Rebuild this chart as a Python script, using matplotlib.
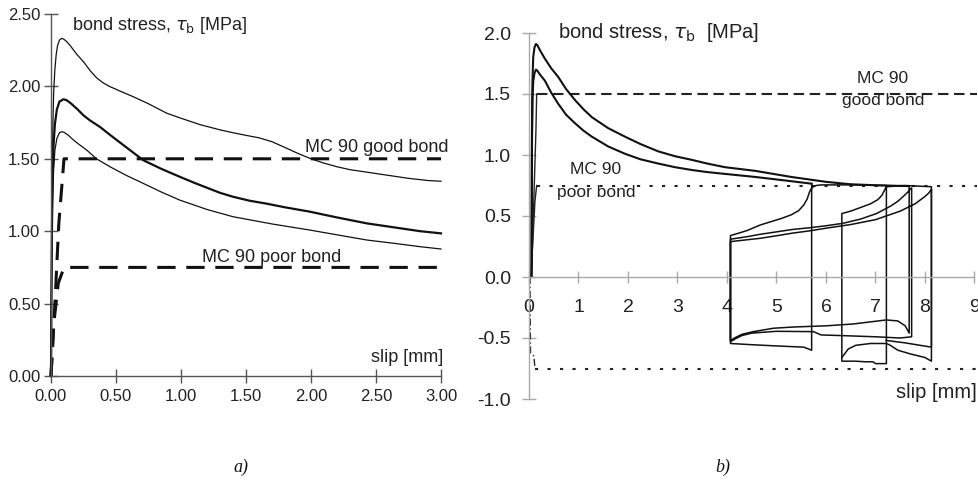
import matplotlib
matplotlib.use("Agg")
import matplotlib.pyplot as plt

plt.rcParams['font.family'] = ['Liberation Sans', 'DejaVu Sans']
plt.rcParams['mathtext.fontset'] = 'dejavusans'

# ---------------- (a) monotonic bond stress - slip curves ----------------
a_top_x = [0, 0.002, 0.005, 0.01, 0.015, 0.02, 0.03, 0.04, 0.05, 0.065, 0.082, 0.10,
           0.12, 0.145, 0.17, 0.20, 0.25, 0.30, 0.35, 0.40, 0.45, 0.55, 0.63, 0.75,
           0.89, 1.00, 1.15, 1.30, 1.40, 1.50, 1.60, 1.70, 1.80, 1.90, 2.00, 2.10,
           2.20, 2.30, 2.45, 2.60, 2.75, 2.90, 3.00]
a_top_y = [0, 0.40, 0.90, 1.40, 1.75, 1.95, 2.12, 2.22, 2.28, 2.32, 2.332, 2.325,
           2.31, 2.285, 2.255, 2.22, 2.17, 2.11, 2.06, 2.025, 2.00, 1.96, 1.93, 1.88,
           1.815, 1.78, 1.735, 1.70, 1.68, 1.662, 1.645, 1.618, 1.578, 1.537, 1.50, 1.47,
           1.445, 1.425, 1.405, 1.385, 1.365, 1.35, 1.345]

a_mid_x = [0, 0.003, 0.007, 0.012, 0.02, 0.03, 0.045, 0.065, 0.095, 0.12, 0.15, 0.20,
           0.25, 0.30, 0.377, 0.44, 0.505, 0.60, 0.71, 0.85, 0.99, 1.10, 1.20, 1.30,
           1.40, 1.53, 1.66, 1.80, 1.99, 2.20, 2.43, 2.65, 2.84, 3.00]
a_mid_y = [0, 0.50, 1.00, 1.35, 1.60, 1.74, 1.84, 1.895, 1.911, 1.905, 1.885, 1.845,
           1.80, 1.765, 1.72, 1.675, 1.63, 1.565, 1.49, 1.43, 1.376, 1.335, 1.30, 1.265,
           1.238, 1.21, 1.19, 1.165, 1.135, 1.095, 1.054, 1.025, 1.00, 0.985]

a_low_x = [0, 0.003, 0.007, 0.012, 0.02, 0.03, 0.045, 0.065, 0.082, 0.10, 0.13, 0.16,
           0.20, 0.275, 0.35, 0.454, 0.58, 0.71, 0.85, 0.99, 1.20, 1.40, 1.70, 1.99,
           2.20, 2.43, 2.65, 2.84, 3.00]
a_low_y = [0, 0.45, 0.90, 1.20, 1.42, 1.56, 1.64, 1.68, 1.687, 1.683, 1.665, 1.64,
           1.61, 1.56, 1.50, 1.445, 1.385, 1.33, 1.27, 1.215, 1.15, 1.10, 1.05, 1.008,
           0.975, 0.939, 0.915, 0.893, 0.877]

a_good_x = [0, 0.03, 0.06, 0.10, 3.00]
a_good_y = [0, 0.50, 1.05, 1.50, 1.50]
a_poor_x = [0, 0.02, 0.056, 0.10, 3.00]
a_poor_y = [0, 0.35, 0.64, 0.75, 0.75]

a_xticks = [0, 0.5, 1.0, 1.5, 2.0, 2.5, 3.0]
a_yticks = [0, 0.5, 1.0, 1.5, 2.0, 2.5]

# ---------------- (b) monotonic + cyclic bond stress - slip curves ----------------
b_up_x = [0.05, 0.055, 0.06, 0.07, 0.085, 0.11, 0.14, 0.17, 0.22, 0.32, 0.45, 0.59,
          0.75, 0.93, 1.10, 1.27, 1.60, 1.94, 2.25, 2.61, 2.95, 3.29, 3.60, 3.96,
          4.57, 5.30, 6.00, 6.50, 7.00, 7.68]
b_up_y = [0, 0.60, 1.20, 1.60, 1.80, 1.88, 1.91, 1.90, 1.86, 1.79, 1.71, 1.64,
          1.54, 1.45, 1.375, 1.31, 1.22, 1.15, 1.09, 1.03, 0.99, 0.96, 0.93, 0.90,
          0.87, 0.82, 0.78, 0.76, 0.752, 0.745]

b_lo_x = [0.05, 0.055, 0.06, 0.07, 0.085, 0.11, 0.14, 0.17, 0.22, 0.32, 0.45, 0.59,
          0.75, 0.93, 1.10, 1.27, 1.60, 1.94, 2.25, 2.61, 2.95, 3.29, 3.60, 3.96,
          4.57, 5.20, 5.71]
b_lo_y = [0, 0.55, 1.10, 1.45, 1.60, 1.67, 1.70, 1.69, 1.66, 1.61, 1.51, 1.42,
          1.33, 1.26, 1.20, 1.15, 1.07, 1.01, 0.965, 0.93, 0.90, 0.877, 0.86, 0.845,
          0.82, 0.79, 0.765]

# cyclic branches of the lower curve
c1_x = [5.71, 5.71, 5.55, 5.00, 4.50, 4.20, 4.07,
        4.07, 4.20, 4.40, 4.67, 4.90, 5.10, 5.30, 5.45, 5.55, 5.62, 5.67, 5.72, 5.80,
        5.90, 6.50, 7.22,
        7.22, 7.00, 6.95, 6.80, 6.60, 6.32,
        6.32, 6.50, 6.70, 6.90, 7.05, 7.13, 7.18, 7.22, 7.60, 8.13,
        8.13, 7.60, 7.22]
c1_y = [0.765, -0.60, -0.575, -0.565, -0.555, -0.548, -0.545,
        0.34, 0.355, 0.38, 0.426, 0.455, 0.48, 0.51, 0.545, 0.59, 0.64, 0.70, 0.735, 0.75,
        0.755, 0.755, 0.75,
        -0.71, -0.71, -0.695, -0.695, -0.69, -0.69,
        0.52, 0.54, 0.57, 0.60, 0.635, 0.67, 0.71, 0.74, 0.75, 0.74,
        -0.575, -0.54, -0.52]

# cyclic branches of the upper curve
c2_x = [7.68, 7.68, 7.60, 7.45, 7.22, 6.55, 6.01, 5.34, 4.94, 4.53, 4.30, 4.15, 4.07,
        4.07, 4.40, 4.67, 5.00, 5.33, 5.70, 6.00, 6.34, 6.70, 7.02, 7.30, 7.45, 7.56,
        7.65, 7.70, 7.73,
        7.73, 7.50, 7.00, 6.30, 5.90, 5.75, 5.00, 4.50, 4.30, 4.20, 4.07,
        4.07, 4.40, 4.67, 5.00, 5.33, 5.70, 6.00, 6.50, 7.00, 7.50, 7.80, 8.00, 8.08, 8.13,
        8.13, 8.00, 7.70, 7.45, 7.30, 7.22, 6.90, 6.60, 6.45, 6.32]
c2_y = [0.745, -0.46, -0.40, -0.36, -0.352, -0.385, -0.40, -0.41, -0.42, -0.448, -0.47, -0.50, -0.52,
        0.31, 0.33, 0.35, 0.37, 0.39, 0.405, 0.42, 0.44, 0.475, 0.52, 0.58, 0.62, 0.66,
        0.695, 0.72, 0.73,
        -0.49, -0.50, -0.49, -0.48, -0.475, -0.448, -0.445, -0.46, -0.48, -0.50, -0.53,
        0.29, 0.305, 0.317, 0.338, 0.36, 0.38, 0.40, 0.43, 0.47, 0.54, 0.60, 0.66, 0.69, 0.72,
        -0.69, -0.66, -0.63, -0.60, -0.56, -0.545, -0.545, -0.56, -0.59, -0.66]

b_good_rise_x = [0.05, 0.14, 0.155]
b_good_rise_y = [0, 1.20, 1.50]
b_good_x = [0.155, 9.05]
b_good_y = [1.50, 1.50]
b_poor_rise_x = [0.04, 0.12, 0.155]
b_poor_rise_y = [0, 0.62, 0.75]
b_poor_x = [0.155, 9.05]
b_poor_y = [0.75, 0.75]
b_neg_rise_x = [0.02, 0.03, 0.10, 0.12]
b_neg_rise_y = [0, -0.62, -0.65, -0.75]
b_neg_x = [0.12, 9.05]
b_neg_y = [-0.75, -0.75]

b_xticks = [0, 1, 2, 3, 4, 5, 6, 7, 8, 9]
b_yticks = [-1.0, -0.5, 0.0, 0.5, 1.0, 1.5, 2.0]
b_yticklabels = ['-1.0', '-0.5', '0.0', '0.5', '1.0', '1.5', '2.0']

fig = plt.figure(figsize=(9.79, 4.95), dpi=100, facecolor='white')

# ---- panel a ----
axa = fig.add_axes([51 / 979, 119 / 495, 390 / 979, 362 / 495])
axa.set_xlim(0, 3.0)
axa.set_ylim(0, 2.5)
for s in ('top', 'right'):
    axa.spines[s].set_visible(False)
for s in ('left', 'bottom'):
    axa.spines[s].set_color('#555555')
    axa.spines[s].set_linewidth(1.0)
axa.tick_params(direction='inout', length=10.5, width=1.0, color='#555555',
                labelsize=12, labelcolor='#222222')
axa.tick_params(axis='y', pad=2.5)
axa.tick_params(axis='x', pad=4)
axa.set_xticks(a_xticks)
axa.set_yticks(a_yticks)
axa.set_xticklabels([f'{v:.2f}' for v in a_xticks])
axa.set_yticklabels([f'{v:.2f}' for v in a_yticks])

axa.plot(a_top_x, a_top_y, color='#111111', lw=0.9, clip_on=False)
axa.plot(a_mid_x, a_mid_y, color='#111111', lw=1.6, clip_on=False)
axa.plot(a_low_x, a_low_y, color='#111111', lw=0.9, clip_on=False)
axa.plot(a_good_x, a_good_y, color='#111111', lw=2.2, dashes=(6, 3.5), clip_on=False)
axa.plot(a_poor_x, a_poor_y, color='#111111', lw=2.2, dashes=(6, 3.5), clip_on=False)

axa.text(0.159, 2.39, r'bond stress, $\tau_\mathrm{b}$ [MPa]', fontsize=13,
         color='#222222', va='baseline', ha='left')
axa.text(3.015, 0.099, 'slip [mm]', fontsize=13, color='#222222',
         va='baseline', ha='right')
axa.text(1.954, 1.545, 'MC 90 good bond', fontsize=13, color='#222222',
         va='baseline', ha='left')
axa.text(1.159, 0.789, 'MC 90 poor bond', fontsize=13, color='#222222',
         va='baseline', ha='left')

# ---- panel b ----
axb = fig.add_axes([489.4 / 979, (495 - 411.2) / 495, 489.06 / 979, 390.4 / 495])
axb.set_xlim(-0.8, 9.08)
axb.set_ylim(-1.1, 2.1)
for s in ('top', 'right'):
    axb.spines[s].set_visible(False)
axb.spines['left'].set_position(('data', 0))
axb.spines['bottom'].set_position(('data', 0))
axb.spines['left'].set_bounds(-1.0, 2.0)
axb.spines['bottom'].set_bounds(0, 9)
for s in ('left', 'bottom'):
    axb.spines[s].set_color('#aaaaaa')
    axb.spines[s].set_linewidth(1.0)
axb.tick_params(direction='inout', width=1.0, color='#aaaaaa',
                labelsize=14, labelcolor='#222222')
axb.tick_params(axis='y', length=10, pad=8)
axb.tick_params(axis='x', length=8, pad=12)
axb.set_xticks(b_xticks)
axb.set_xticklabels([str(v) for v in b_xticks])
axb.set_yticks(b_yticks)
axb.set_yticklabels(b_yticklabels)

axb.plot(b_good_rise_x, b_good_rise_y, color='#222222', lw=1.0)
axb.plot(b_good_x, b_good_y, color='#222222', lw=1.5, dashes=(5, 2.7), clip_on=False)
axb.plot(b_poor_rise_x, b_poor_rise_y, color='#222222', lw=1.0)
axb.plot(b_poor_x, b_poor_y, color='#222222', lw=1.5, dashes=(1.5, 4.5), clip_on=False)
axb.plot(b_neg_rise_x, b_neg_rise_y, color='#222222', lw=1.0, dashes=(5, 2, 1, 2))
axb.plot(b_neg_x, b_neg_y, color='#222222', lw=1.5, dashes=(1.5, 4.5), clip_on=False)

axb.plot(b_up_x, b_up_y, color='#111111', lw=1.5)
axb.plot(b_lo_x, b_lo_y, color='#111111', lw=1.5)
axb.plot(c1_x, c1_y, color='#111111', lw=1.1)
axb.plot(c2_x, c2_y, color='#111111', lw=1.1)

axb.text(0.59, 1.957, r'bond stress, $\tau_\mathrm{b}$  [MPa]', fontsize=14.5,
         color='#222222', va='baseline', ha='left')
axb.text(9.05, -0.994, 'slip [mm]', fontsize=14.5, color='#222222',
         va='baseline', ha='right', clip_on=False)
axb.text(7.15, 1.623, 'MC 90', fontsize=12.5, color='#222222', ha='center', va='center')
axb.text(7.15, 1.443, 'good bond', fontsize=12.5, color='#222222', ha='center', va='center')
axb.text(1.35, 0.885, 'MC 90', fontsize=12.5, color='#222222', ha='center', va='center')
axb.text(1.35, 0.69, 'poor bond', fontsize=12.5, color='#222222', ha='center', va='center')

# ---- captions ----
cap_font = dict(family='Liberation Serif', style='italic', fontsize=13, color='#111111')
fig.text(241 / 979, 1 - 467 / 495, 'a)', ha='center', va='center', **cap_font)
fig.text(723 / 979, 1 - 467 / 495, 'b)', ha='center', va='center', **cap_font)

fig.savefig('out.png', dpi=100, facecolor='white')
